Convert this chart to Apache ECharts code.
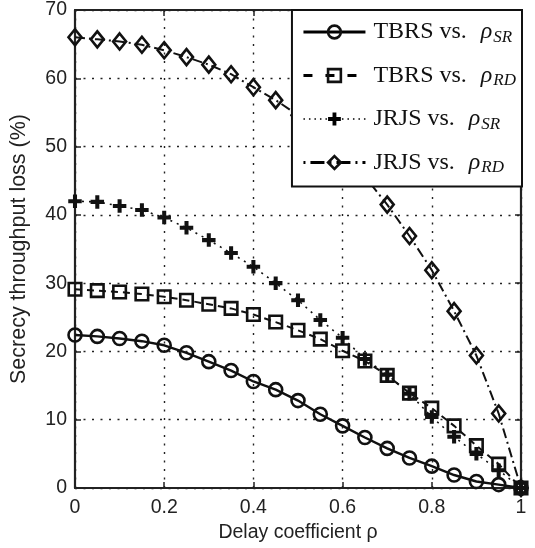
<!DOCTYPE html>
<html>
<head>
<meta charset="utf-8">
<script src="https://cdn.jsdelivr.net/npm/echarts@6/dist/echarts.min.js"></script>
<style>
html,body{margin:0;padding:0;background:#fff;}
#c{width:535px;height:548px;}
</style>
</head>
<body>
<div id="c"></div>
<script>
// ---- data ----
var rho = [0, 0.05, 0.1, 0.15, 0.2, 0.25, 0.3, 0.35, 0.4, 0.45, 0.5, 0.55, 0.6, 0.65, 0.7, 0.75, 0.8, 0.85, 0.9, 0.95, 1];
var tbrsSR = [22.4, 22.2, 21.9, 21.5, 20.9, 19.8, 18.5, 17.2, 15.6, 14.4, 12.8, 10.8, 9.1, 7.4, 5.8, 4.4, 3.2, 1.9, 0.95, 0.5, 0];
var tbrsRD = [29.1, 28.9, 28.7, 28.4, 28.0, 27.5, 26.9, 26.3, 25.4, 24.3, 23.1, 21.8, 20.1, 18.6, 16.5, 13.9, 11.7, 9.1, 6.2, 3.5, 0];
var jrjsSR = [42.0, 41.9, 41.3, 40.7, 39.6, 38.1, 36.3, 34.4, 32.4, 30.0, 27.5, 24.6, 22.0, 18.9, 16.6, 13.8, 10.4, 7.5, 5.0, 2.6, 0];
var jrjsRD = [66.0, 65.7, 65.4, 64.9, 64.1, 63.1, 62.0, 60.6, 58.7, 56.8, 54.6, 52.0, 49.0, 45.6, 41.5, 36.9, 31.9, 25.9, 19.4, 10.9, 0];
var seriesNames = ['TBRS vs. \u03c1SR', 'TBRS vs. \u03c1RD', 'JRJS vs. \u03c1SR', 'JRJS vs. \u03c1RD'];
var legendParts = [['TBRS vs.', 'SR'], ['TBRS vs.', 'RD'], ['JRJS vs.', 'SR'], ['JRJS vs.', 'RD']];
var xTitle = 'Delay coefficient \u03c1';
var yTitle = 'Secrecy throughput loss (%)';

function pairs(ys) { return rho.map(function (x, i) { return [x, ys[i]]; }); }

var plusPath = 'path://M3.5,0H6.5V3.5H10V6.5H6.5V10H3.5V6.5H0V3.5H3.5Z';
var hollow = { color: 'rgba(0,0,0,0)', borderColor: '#111', borderWidth: 2.6 };
var ink = '#222';

var chart = echarts.init(document.getElementById('c'));
var axisLbl = { color: ink, fontFamily: 'Liberation Sans', fontSize: 19.5 };
var grid = { left: 75, right: 14, top: 10, bottom: 60 };
var split = { show: true, lineStyle: { color: '#222', type: [2, 6.5], width: 1.4 } };
var boxLine = { show: true, onZero: false, lineStyle: { color: ink, width: 2.2 } };
var boxTick = { show: true, inside: true, length: 6, lineStyle: { color: ink, width: 1.5 } };

chart.setOption({
  animation: false,
  backgroundColor: '#fff',
  grid: grid,
  xAxis: [{
    type: 'value', min: 0, max: 1, interval: 0.2,
    axisLine: boxLine, axisTick: boxTick,
    axisLabel: Object.assign({ margin: 10 }, axisLbl),
    splitLine: split,
    name: xTitle, nameLocation: 'middle', nameGap: 30,
    nameTextStyle: { color: ink, fontFamily: 'Liberation Sans', fontSize: 19.5 }
  }, {
    type: 'value', min: 0, max: 1, interval: 0.2, position: 'top',
    axisLine: boxLine, axisTick: boxTick,
    axisLabel: { show: false }, splitLine: { show: false }
  }],
  yAxis: [{
    type: 'value', min: 0, max: 70, interval: 10,
    axisLine: boxLine, axisTick: boxTick,
    axisLabel: Object.assign({ margin: 8 }, axisLbl),
    splitLine: split,
    name: yTitle, nameLocation: 'middle', nameGap: 45, nameRotate: 90,
    nameTextStyle: { color: ink, fontFamily: 'Liberation Sans', fontSize: 21.5 }
  }, {
    type: 'value', min: 0, max: 70, interval: 10, position: 'right',
    axisLine: boxLine, axisTick: boxTick,
    axisLabel: { show: false }, splitLine: { show: false }
  }],
  legend: {
    orient: 'vertical', right: 13, top: 10,
    backgroundColor: '#fff', borderColor: '#111', borderWidth: 2, borderRadius: 0,
    padding: [10, 6, 10, 10],
    itemWidth: 62, itemHeight: 16, itemGap: 17.5,
    data: [
      { name: seriesNames[0], lineStyle: { color: '#000', width: 3, type: 'solid' }, itemStyle: hollow },
      { name: seriesNames[1], lineStyle: { color: '#000', width: 3, type: [9, 13] }, itemStyle: hollow },
      { name: seriesNames[2], lineStyle: { color: '#000', width: 1.5, type: [1.5, 4] }, itemStyle: { color: '#000', borderWidth: 0 } },
      { name: seriesNames[3], lineStyle: { color: '#000', width: 3, type: [2, 5, 14, 5] }, itemStyle: hollow }
    ],
    formatter: function (name) {
      var i = seriesNames.indexOf(name);
      return '{a|' + legendParts[i][0] + '}{g| }{r|\u03c1}{s|' + legendParts[i][1] + '}';
    },
    textStyle: {
      padding: [0, 0, 0, 3],
      rich: {
        a: { fontFamily: 'Liberation Serif', fontSize: 24, color: '#111' },
        g: { fontFamily: 'Liberation Serif', fontSize: 24, width: 14 },
        r: { fontFamily: 'Liberation Serif', fontStyle: 'italic', fontSize: 24, color: '#111' },
        s: { fontFamily: 'Liberation Serif', fontStyle: 'italic', fontSize: 17, color: '#111', padding: [11, 0, 0, 1] }
      }
    }
  },
  series: [{
    name: seriesNames[0], type: 'line', data: pairs(tbrsSR),
    symbol: 'circle', symbolSize: 13, itemStyle: hollow,
    lineStyle: { color: '#111', width: 2.4, type: 'solid' }, z: 5
  }, {
    name: seriesNames[1], type: 'line', data: pairs(tbrsRD),
    symbol: 'rect', symbolSize: 12.5, itemStyle: hollow,
    lineStyle: { color: '#111', width: 2, type: [7, 5] }, z: 4
  }, {
    name: seriesNames[2], type: 'line', data: pairs(jrjsSR),
    symbol: plusPath, symbolSize: 13.5, itemStyle: { color: '#111', borderWidth: 0 },
    lineStyle: { color: '#111', width: 1.6, type: [2, 5] }, z: 3
  }, {
    name: seriesNames[3], type: 'line', data: pairs(jrjsRD),
    symbol: 'diamond', symbolSize: [13, 16], itemStyle: hollow,
    lineStyle: { color: '#111', width: 2, type: [10, 4, 2, 4] }, z: 3
  }]
});
</script>
</body>
</html>
